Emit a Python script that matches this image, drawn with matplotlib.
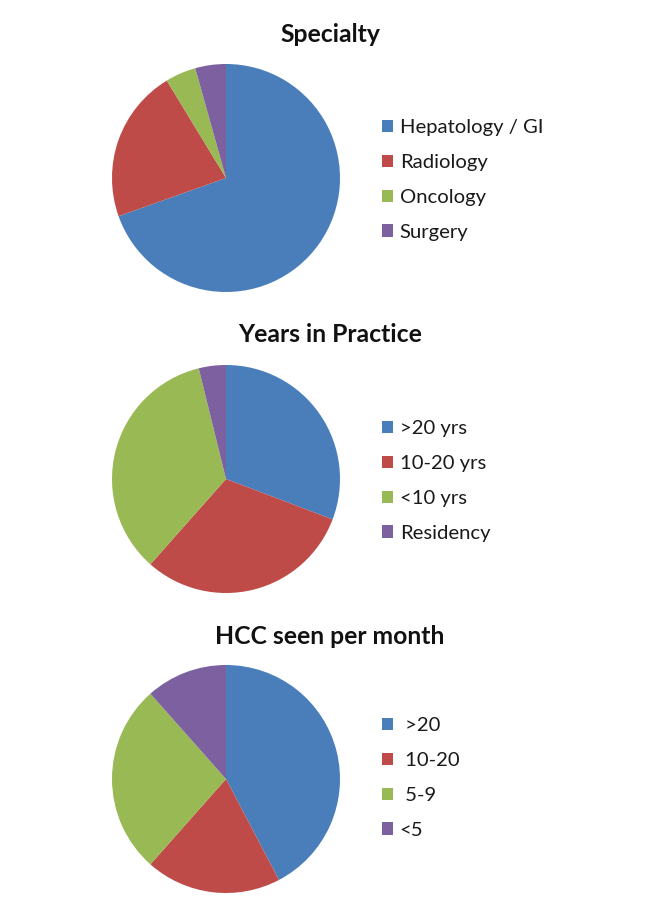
import matplotlib.pyplot as plt

titles = ["Specialty", "Years in Practice", "HCC seen per month"]

specialty_labels = ["Hepatology / GI", "Radiology", "Oncology", "Surgery"]
specialty_counts = [16, 5, 1, 1]

years_labels = [">20 yrs", "10-20 yrs", "<10 yrs", "Residency"]
years_counts = [8, 8, 9, 1]

hcc_labels = [" >20", " 10-20", " 5-9", "<5"]
hcc_counts = [11, 5, 7, 3]

colors = ["#4A7EBB", "#BE4B48", "#98B954", "#7D60A0"]

plt.rcParams['font.family'] = ['Lato', 'DejaVu Sans']

W, H = 656, 914
fig = plt.figure(figsize=(W / 100, H / 100), dpi=100)
fig.patch.set_facecolor("white")

# pixel layout of each panel: pie centre y, title y, legend centre y
centers_y = [178, 479, 779]
title_y = [34, 334, 636]
legend_y = [180, 481, 778]
cx, r = 226, 114

datasets = [(specialty_labels, specialty_counts),
            (years_labels, years_counts),
            (hcc_labels, hcc_counts)]

for i, (labels, counts) in enumerate(datasets):
    cy = centers_y[i]
    ax = fig.add_axes([(cx - r) / W, 1 - (cy + r) / H, 2 * r / W, 2 * r / H])
    wedges, _ = ax.pie(counts, colors=colors, startangle=90, counterclock=False,
                       wedgeprops=dict(linewidth=0))
    ax.set_xlim(-1, 1)
    ax.set_ylim(-1, 1)
    ax.set_aspect('equal')

    fig.text(330 / W, 1 - title_y[i] / H, titles[i], ha='center', va='center',
             fontsize=17.8, fontweight='bold', color='#111111')

    fig.legend(wedges, labels, loc='center left',
               bbox_to_anchor=(381.5 / W, 1 - legend_y[i] / H),
               bbox_transform=fig.transFigure, frameon=False,
               fontsize=14.6, handlelength=0.55, handleheight=0.55,
               handletextpad=0.35, labelspacing=0.88, borderpad=0,
               borderaxespad=0, labelcolor='#1a1a1a')

fig.savefig("out.png", dpi=100)
